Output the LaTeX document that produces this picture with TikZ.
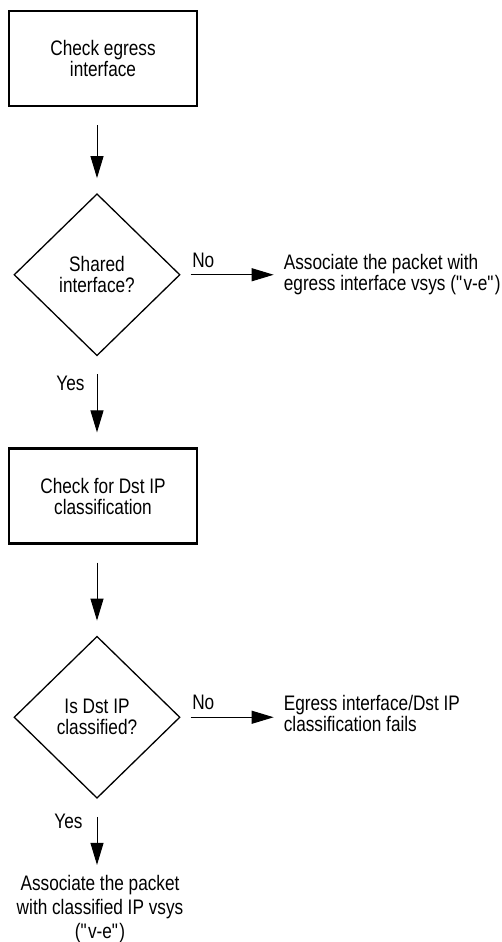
\documentclass[tikz,border=0pt]{standalone}
\usepackage{fontspec}
\setmainfont{Liberation Sans}[FakeStretch=0.82]
\usepackage{tikz}
\usetikzlibrary{shapes.geometric,arrows.meta,positioning,calc}

\begin{document}
\begin{tikzpicture}[
    font=\fontsize{21pt}{21pt}\selectfont,
    procbox/.style={rectangle, draw, line width=2.2pt, minimum width=188pt, minimum height=95pt, align=center},
    decision/.style={diamond, draw, line width=1.3pt, minimum width=166pt, minimum height=162pt, inner sep=0pt, align=center},
    outtext/.style={inner sep=0pt, align=left, anchor=west},
    endtext/.style={inner sep=0pt, align=center, font=\fontsize{21pt}{24pt}\selectfont},
    flow/.style={line width=1pt, -{Triangle[length=22pt,width=13pt]}, shorten <=18pt, shorten >=15pt},
    side/.style={line width=1pt, -{Triangle[length=22pt,width=13pt]}, shorten <=10pt, shorten >=10pt},
    tag/.style={inner sep=0pt}
]
    \useasboundingbox (0,0) rectangle (502pt,-942pt);

    % Egress interface check
    \node[procbox] (chk1) at (103pt,-58.5pt) {Check egress\\interface};
    \node[decision, below=86pt of chk1, xshift=-6pt] (shared) {Shared\\interface?};
    \node[outtext, right=103pt of shared] (assoc1) {Associate the packet with\\egress interface vsys (\textquotedbl v-e\textquotedbl)};

    % Dst IP classification
    \node[procbox, below=91pt of shared, xshift=6pt] (chk2) {Check for Dst IP\\classification};
    \node[decision, below=91pt of chk2, xshift=-6pt] (isdst) {Is Dst IP\\classified?};
    \node[outtext, right=103pt of isdst, yshift=4pt] (fail) {Egress interface/Dst IP\\classification fails};
    \node[endtext, below=76pt of isdst, xshift=3pt] (assoc2) {Associate the packet\\with classified IP vsys\\(\textquotedbl v-e\textquotedbl)};

    % Connectors
    \draw[flow] (chk1.south -| shared.north) -- (shared.north);
    \draw[side] (shared.east) -- node[tag, pos=0.22, above=7pt] (no1) {No} (shared.east -| assoc1.west);
    \draw[flow] (shared.south) -- node[tag, pos=0.3, left=12pt] (yes1) {Yes} (shared.south |- chk2.north);
    \draw[flow] (chk2.south -| isdst.north) -- (isdst.north);
    \draw[side] (isdst.east) -- node[tag, pos=0.22, above=7pt] (no2) {No} (isdst.east -| fail.west);
    \draw[flow, shorten >=10pt] (isdst.south) -- node[tag, pos=0.3, left=14pt] (yes2) {Yes} (isdst.south |- assoc2.north);
\end{tikzpicture}
\end{document}
